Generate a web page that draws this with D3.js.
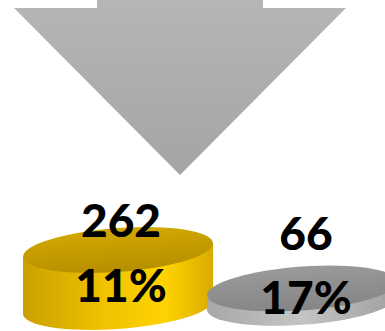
<!DOCTYPE html>
<html>
<head>
<meta charset="utf-8">
<script src="https://cdn.jsdelivr.net/npm/d3@7"></script>
<style>
  html, body { margin: 0; padding: 0; background: #fff; }
  svg { display: block; }
</style>
</head>
<body>
<div id="chart"></div>
<script>
// Two groups: counts shown above each disk, shares printed on the disk face.
const categories = ["A", "B"];
const counts = [262, 66];
const shares = ["11%", "17%"];

const W = 385, H = 331;
const svg = d3.select("#chart").append("svg")
  .attr("width", W).attr("height", H);

const defs = svg.append("defs");

// Funnel arrow gradient
const ag = defs.append("linearGradient").attr("id", "arrowGrad")
  .attr("x1", 0).attr("y1", 0).attr("x2", 0).attr("y2", 1);
ag.append("stop").attr("offset", "0%").attr("stop-color", "#b6b6b6");
ag.append("stop").attr("offset", "100%").attr("stop-color", "#a4a4a4");

// Disk palettes: side gradient (left→right) and top face gradient (back→front)
const palettes = [
  {
    side: [["0%", "#c9a000"], ["45%", "#f2c400"], ["75%", "#ffd200"], ["100%", "#d9ab00"]],
    top: [["0%", "#d2a800"], ["100%", "#b58f00"]]
  },
  {
    side: [["0%", "#a8a8a8"], ["50%", "#c4c4c4"], ["100%", "#a0a0a0"]],
    top: [["0%", "#9a9a9a"], ["100%", "#858585"]]
  }
];
palettes.forEach((p, i) => {
  const s = defs.append("linearGradient").attr("id", "side" + i)
    .attr("x1", 0).attr("y1", 0).attr("x2", 1).attr("y2", 0);
  p.side.forEach(d => s.append("stop").attr("offset", d[0]).attr("stop-color", d[1]));
  const t = defs.append("linearGradient").attr("id", "top" + i)
    .attr("x1", 0).attr("y1", 0).attr("x2", 0).attr("y2", 1);
  p.top.forEach(d => t.append("stop").attr("offset", d[0]).attr("stop-color", d[1]));
});

// Down arrow
const arrow = d3.path();
arrow.moveTo(97, -2); arrow.lineTo(263, -2); arrow.lineTo(263, 8);
arrow.lineTo(346, 8); arrow.lineTo(180, 175); arrow.lineTo(14, 8);
arrow.lineTo(97, 8); arrow.closePath();
svg.append("path").attr("d", arrow.toString()).attr("fill", "url(#arrowGrad)");

// Scales: horizontal placement and disk thickness from the count
const x = d3.scalePoint().domain(categories).range([118, 302]);
const thick = d3.scaleLinear().domain([0, 262]).range([0, 57]);
const topY = [250, 288.5];   // centre of each disk's top face
const rx = 95, ry = 22, tilt = -4;

categories.forEach((c, i) => {
  const cx = x(c), cy = topY[i], h = thick(counts[i]);
  const g = svg.append("g")
    .attr("transform", `translate(${cx},${cy}) skewY(${tilt}) translate(${-cx},${-cy})`);
  g.append("path")
    .attr("d", `M${cx - rx},${cy} L${cx - rx},${cy + h} A${rx},${ry} 0 0 0 ${cx + rx},${cy + h} L${cx + rx},${cy} Z`)
    .attr("fill", `url(#side${i})`);
  g.append("ellipse")
    .attr("cx", cx).attr("cy", cy).attr("rx", rx).attr("ry", ry)
    .attr("fill", `url(#top${i})`);
});

// Labels
const countY = [237, 250];
const shareY = [302, 314];
const font = "Lato, 'Open Sans', sans-serif";

svg.selectAll("text.count").data(categories).join("text")
  .attr("class", "count")
  .attr("x", d => x(d) + (d === "A" ? 3 : 4))
  .attr("y", (d, i) => countY[i])
  .attr("text-anchor", "middle")
  .attr("font-family", font)
  .attr("font-weight", 900)
  .attr("font-size", 46)
  .attr("fill", "#000")
  .text((d, i) => counts[i]);

svg.selectAll("text.share").data(categories).join("text")
  .attr("class", "share")
  .attr("x", d => x(d) + (d === "A" ? 3 : 4))
  .attr("y", (d, i) => shareY[i])
  .attr("text-anchor", "middle")
  .attr("font-family", font)
  .attr("font-weight", 900)
  .attr("font-size", 46)
  .attr("fill", "#000")
  .text((d, i) => shares[i]);
</script>
</body>
</html>
